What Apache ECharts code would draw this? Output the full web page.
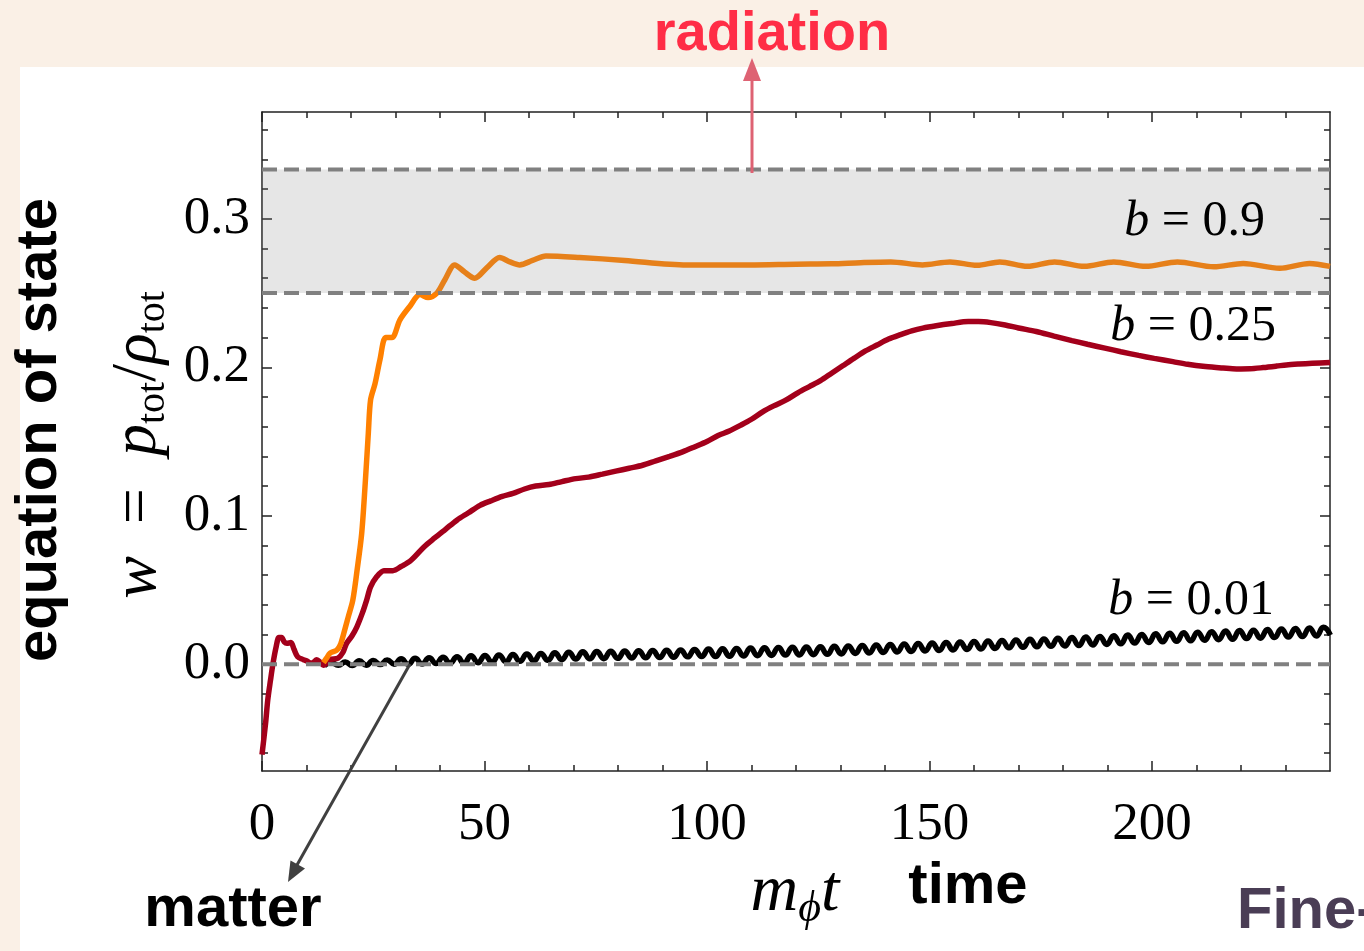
<!DOCTYPE html>
<html>
<head>
<meta charset="utf-8">
<script src="https://cdn.jsdelivr.net/npm/echarts@6/dist/echarts.min.js"></script>
<style>
html,body{margin:0;padding:0;background:#faf0e6;}
#chart{width:1364px;height:951px;}
</style>
</head>
<body>
<div id="chart"></div>
<script>
// ---- data ----
const xMajorTicks = [0, 50, 100, 150, 200];
const xMinorTicks = [10, 20, 30, 40, 60, 70, 80, 90, 110, 120, 130, 140, 160, 170, 180, 190, 210, 220, 230];
const yMajorTicks = [0, 0.1, 0.2, 0.3];
const yMinorTicks = [-0.06, -0.04, -0.02, 0.02, 0.04, 0.06, 0.08, 0.12, 0.14, 0.16, 0.18, 0.22, 0.24, 0.26, 0.28, 0.32, 0.34, 0.36];
const radiationBand = [0.25, 1 / 3];
const matterLevel = 0;
const tRange = [0, 240];

// b = 0.9 (orange)
const wB09 = [[13.8,0.001],[14.5,0.004],[15.3,0.0074],[16.8,0.0094],[17.6,0.013],[18.4,0.021],[19.4,0.032],[20.4,0.043],[21.4,0.064],[22.4,0.088],[23.2,0.122],[23.9,0.156],[24.4,0.178],[25.4,0.189],[26.5,0.205],[27.8,0.220],[29.2,0.220],[31.0,0.232],[33.2,0.241],[35.5,0.249],[37.3,0.247],[39.3,0.250],[41.1,0.259],[43.3,0.269],[45.6,0.264],[47.8,0.260],[50.5,0.267],[53.4,0.274],[55.7,0.271],[57.9,0.269],[60.8,0.272],[63.8,0.275],[71.4,0.274],[81.5,0.272],[95.4,0.269],[109.6,0.269],[120,0.2695],[128,0.2697],[134.5,0.2705],[141.3,0.271],[148.4,0.269],[154.6,0.271],[160.7,0.2687],[165.8,0.271],[172.0,0.268],[178.1,0.271],[184.8,0.268],[191.4,0.271],[198.6,0.268],[205.7,0.271],[213.9,0.2677],[220.5,0.270],[228.7,0.2667],[235.4,0.270],[240,0.268]];

// b = 0.25 (dark red)
const wB025 = [[0,-0.061],[0.8,-0.04],[1.3,-0.024],[1.9,-0.011],[2.5,0.001],[3.2,0.012],[3.8,0.018],[4.4,0.018],[5.0,0.015],[5.6,0.014],[6.5,0.0145],[7.2,0.01],[8.0,0.005],[9.3,0.003],[10.2,0.002],[10.8,0.0008],[11.5,0.001],[12.3,0.003],[13.2,0.001],[13.8,-0.0007],[14.6,0.001],[15.3,0.003],[17.1,0.004],[18.2,0.008],[19.0,0.014],[20.2,0.019],[21.3,0.025],[22.5,0.034],[23.5,0.043],[24.4,0.052],[25.8,0.059],[27.4,0.063],[29.4,0.063],[31.4,0.066],[33.5,0.070],[36.4,0.079],[38.8,0.085],[41.3,0.091],[43.8,0.097],[46.4,0.102],[49,0.107],[51.4,0.110],[54,0.113],[56.4,0.115],[59,0.118],[61.5,0.12],[64.5,0.121],[67.4,0.123],[70.5,0.125],[73.4,0.126],[76.5,0.128],[79.5,0.13],[82.5,0.132],[85.5,0.134],[88.5,0.137],[91.6,0.14],[94.5,0.143],[97.3,0.1465],[100,0.150],[102.5,0.154],[105,0.157],[107.6,0.161],[110,0.165],[112.5,0.170],[115,0.174],[117.8,0.178],[120.5,0.183],[123,0.187],[125.5,0.191],[128,0.196],[130.5,0.201],[133,0.206],[135.6,0.211],[138.2,0.215],[140.8,0.219],[143.5,0.222],[146,0.2245],[148.5,0.2264],[151.5,0.228],[155,0.2295],[158.7,0.2308],[161,0.2308],[163.8,0.2301],[167,0.2285],[170,0.2265],[174,0.2241],[178,0.221],[182,0.218],[185.5,0.2155],[189.4,0.2129],[193,0.2105],[197,0.208],[200.5,0.206],[204.7,0.2038],[208,0.202],[212,0.2005],[216,0.1995],[219,0.1989],[222,0.199],[225,0.1998],[228,0.2008],[230.2,0.2016],[233,0.2022],[236,0.2027],[240,0.2033]];

// b = 0.01 (black): turning points (trough/peak), sampled every half oscillation
const b001Start = 14.0;
const b001Step = 1.57;
const wB001 = [
-0.0010,0.0011,-0.0008,0.0014,-0.0010,0.0022,-0.0007,0.0025,-0.0003,0.0028,
0.0000,0.0036,-0.0002,0.0039,0.0001,0.0043,0.0004,0.0046,0.0007,0.0049,
0.0006,0.0056,0.0010,0.0059,0.0013,0.0062,0.0016,0.0065,0.0019,0.0069,
0.0022,0.0072,0.0026,0.0076,0.0030,0.0080,0.0034,0.0083,0.0036,0.0085,
0.0037,0.0086,0.0039,0.0088,0.0041,0.0090,0.0043,0.0092,0.0045,0.0094,
0.0047,0.0096,0.0049,0.0098,0.0051,0.0102,0.0051,0.0104,0.0053,0.0106,
0.0055,0.0108,0.0057,0.0110,0.0059,0.0112,0.0061,0.0114,0.0062,0.0115,
0.0064,0.0117,0.0066,0.0120,0.0069,0.0123,0.0072,0.0126,0.0075,0.0129,
0.0079,0.0132,0.0082,0.0136,0.0085,0.0139,0.0089,0.0142,0.0092,0.0146,
0.0095,0.0149,0.0099,0.0153,0.0102,0.0156,0.0106,0.0160,0.0110,0.0163,
0.0113,0.0167,0.0117,0.0170,0.0120,0.0174,0.0122,0.0180,0.0125,0.0183,
0.0129,0.0187,0.0133,0.0191,0.0137,0.0196,0.0142,0.0200,0.0146,0.0204,
0.0150,0.0208,0.0154,0.0212,0.0157,0.0215,0.0161,0.0219,0.0165,0.0223,
0.0168,0.0226,0.0172,0.0229,0.0175,0.0233,0.0179,0.0236,0.0182,0.0240,
0.0186,0.0244,0.0190,0.0248,0.0195];

const seriesLabels = ['b = 0.9', 'b = 0.25', 'b = 0.01'];

// ---- chart ----
const chart = echarts.init(document.getElementById('chart'), null, {renderer: 'canvas'});
const blackPts = wB001.map((w, i) => [b001Start + i * b001Step, w]);
const hLine = v => [[tRange[0], v], [tRange[1], v]];

const axisCol = '#222';
const SERIF = '"Liberation Serif", "DejaVu Serif", serif';
const SANS = '"Liberation Sans", Arial, sans-serif';

function xAx(pos, ticks, len, showLine, showLabel) {
  return {
    type: 'value', min: tRange[0], max: tRange[1], position: pos,
    axisLine: {show: showLine, onZero: false, lineStyle: {color: axisCol, width: 1.5}},
    axisTick: {show: true, inside: true, length: len, customValues: ticks, lineStyle: {color: axisCol, width: 1.5}},
    axisLabel: showLabel ? {show: true, customValues: ticks, fontFamily: SERIF, fontSize: 53, color: '#000', margin: 28,
      formatter: v => String(v)} : {show: false},
    splitLine: {show: false}, minorTick: {show: false}
  };
}
function yAx(pos, ticks, len, showLine, showLabel) {
  return {
    type: 'value', min: -0.072, max: 0.372, position: pos,
    axisLine: {show: showLine, onZero: false, lineStyle: {color: axisCol, width: 1.5}},
    axisTick: {show: true, inside: true, length: len, customValues: ticks, lineStyle: {color: axisCol, width: 1.5}},
    axisLabel: showLabel ? {show: true, customValues: ticks, fontFamily: SERIF, fontSize: 53, color: '#000', margin: 12,
      padding: [12, 0, 0, 0], formatter: v => v.toFixed(1)} : {show: false},
    splitLine: {show: false}, minorTick: {show: false}
  };
}

const dashStyle = {color: '#808080', width: 4, type: [15, 7]};

const option = {
  animation: false,
  backgroundColor: '#faf0e6',
  grid: {left: 262, right: 34, top: 112, bottom: 180, containLabel: false, outerBoundsMode: 'none'},
  xAxis: [
    xAx('bottom', xMajorTicks, 10, true, true),
    xAx('bottom', xMinorTicks, 6, false, false),
    xAx('top', xMajorTicks, 10, true, false),
    xAx('top', xMinorTicks, 6, false, false)
  ],
  yAxis: [
    yAx('left', yMajorTicks, 10, true, true),
    yAx('left', yMinorTicks, 6, false, false),
    yAx('right', yMajorTicks, 10, true, false),
    yAx('right', yMinorTicks, 6, false, false)
  ],
  series: [
    {name: seriesLabels[2], type: 'line', data: blackPts, smooth: 0.5, symbol: 'none', z: 3,
      lineStyle: {color: '#000', width: 5.5}},
    {name: seriesLabels[1], type: 'line', data: wB025, smooth: 0.3, symbol: 'none', z: 4,
      lineStyle: {color: '#a3001b', width: 5.5}},
    {name: seriesLabels[0], type: 'line', data: wB09, smooth: 0.3, symbol: 'none', z: 5,
      lineStyle: {color: '#ff8000', width: 5.5}},
    {name: 'band', type: 'line', data: hLine(radiationBand[1]), z: 10, silent: true, symbol: 'none',
      lineStyle: {width: 0, opacity: 0},
      areaStyle: {origin: radiationBand[0], color: 'rgba(128,128,128,0.2)', opacity: 1}},
    {name: 'wRad', type: 'line', data: hLine(radiationBand[1]), z: 11, silent: true, symbol: 'none', lineStyle: dashStyle},
    {name: 'wBand', type: 'line', data: hLine(radiationBand[0]), z: 11, silent: true, symbol: 'none', lineStyle: dashStyle},
    {name: 'wMat', type: 'line', data: hLine(matterLevel), z: 11, silent: true, symbol: 'none', lineStyle: dashStyle}
  ],
  graphic: {elements: [
    {type: 'rect', z: -10, shape: {x: 20, y: 67, width: 1344, height: 884}, style: {fill: '#ffffff'}},
    // radiation annotation
    {type: 'text', z: 100, x: 772, y: 35, style: {text: 'radiation', fill: '#ff2d46', font: 'bold 56px ' + SANS, align: 'center', verticalAlign: 'middle'}},
    {type: 'line', z: 100, shape: {x1: 752, y1: 173, x2: 752, y2: 76}, style: {stroke: '#de6273', lineWidth: 3}},
    {type: 'polygon', z: 100, shape: {points: [[752, 58], [743, 81], [761, 81]]}, style: {fill: '#de6273'}},
    // matter annotation
    {type: 'line', z: 100, shape: {x1: 410, y1: 664, x2: 297, y2: 865}, style: {stroke: '#404040', lineWidth: 3}},
    {type: 'polygon', z: 100, shape: {points: [[288, 882], [305, 868.5], [290.5, 860.5]]}, style: {fill: '#404040'}},
    {type: 'text', z: 100, x: 233, y: 910, style: {text: 'matter', fill: '#000', font: 'bold 58px ' + SANS, align: 'center', verticalAlign: 'middle'}},
    // side labels
    {type: 'text', z: 100, x: 40, y: 430, rotation: Math.PI / 2, style: {text: 'equation of state', fill: '#000', font: 'bold 58px ' + SANS, align: 'center', verticalAlign: 'middle'}},
    {type: 'text', z: 100, x: 138, y: 445, rotation: Math.PI / 2, style: {
      text: '{i|w}{r|  =  }{i|p}{s|tot}{r|/}{i|ρ}{s|tot}', align: 'center', verticalAlign: 'middle',
      rich: {
        i: {fontFamily: SERIF, fontStyle: 'italic', fontSize: 64, fill: '#000', lineHeight: 70, verticalAlign: 'middle'},
        r: {fontFamily: SERIF, fontSize: 64, fill: '#000', lineHeight: 70, verticalAlign: 'middle'},
        s: {fontFamily: SERIF, fontSize: 40, fill: '#000', lineHeight: 70, verticalAlign: 'bottom'}
      }}},
    {type: 'text', z: 100, x: 795, y: 893, style: {
      text: '{i|m}{s|ϕ}{i|t}', align: 'center', verticalAlign: 'middle',
      rich: {
        i: {fontFamily: SERIF, fontStyle: 'italic', fontSize: 66, fill: '#000', lineHeight: 76, verticalAlign: 'middle'},
        s: {fontFamily: SERIF, fontStyle: 'italic', fontSize: 44, fill: '#000', lineHeight: 76, verticalAlign: 'bottom'}
      }}},
    {type: 'text', z: 100, x: 968, y: 887, style: {text: 'time', fill: '#000', font: 'bold 58px ' + SANS, align: 'center', verticalAlign: 'middle'}},
    {type: 'text', z: 100, x: 1237, y: 912, style: {text: 'Fine-', fill: '#4a3d55', font: 'bold 58px ' + SANS, align: 'left', verticalAlign: 'middle'}},
    // series labels
    {type: 'text', z: 100, x: 1265, y: 222, style: {text: '{i|b}{r| = 0.9}', align: 'right', verticalAlign: 'middle',
      rich: {i: {fontFamily: SERIF, fontStyle: 'italic', fontSize: 50, fill: '#000'}, r: {fontFamily: SERIF, fontSize: 50, fill: '#000'}}}},
    {type: 'text', z: 100, x: 1276, y: 327, style: {text: '{i|b}{r| = 0.25}', align: 'right', verticalAlign: 'middle',
      rich: {i: {fontFamily: SERIF, fontStyle: 'italic', fontSize: 50, fill: '#000'}, r: {fontFamily: SERIF, fontSize: 50, fill: '#000'}}}},
    {type: 'text', z: 100, x: 1274, y: 601, style: {text: '{i|b}{r| = 0.01}', align: 'right', verticalAlign: 'middle',
      rich: {i: {fontFamily: SERIF, fontStyle: 'italic', fontSize: 50, fill: '#000'}, r: {fontFamily: SERIF, fontSize: 50, fill: '#000'}}}}
  ]}
};
chart.setOption(option);
</script>
</body>
</html>
